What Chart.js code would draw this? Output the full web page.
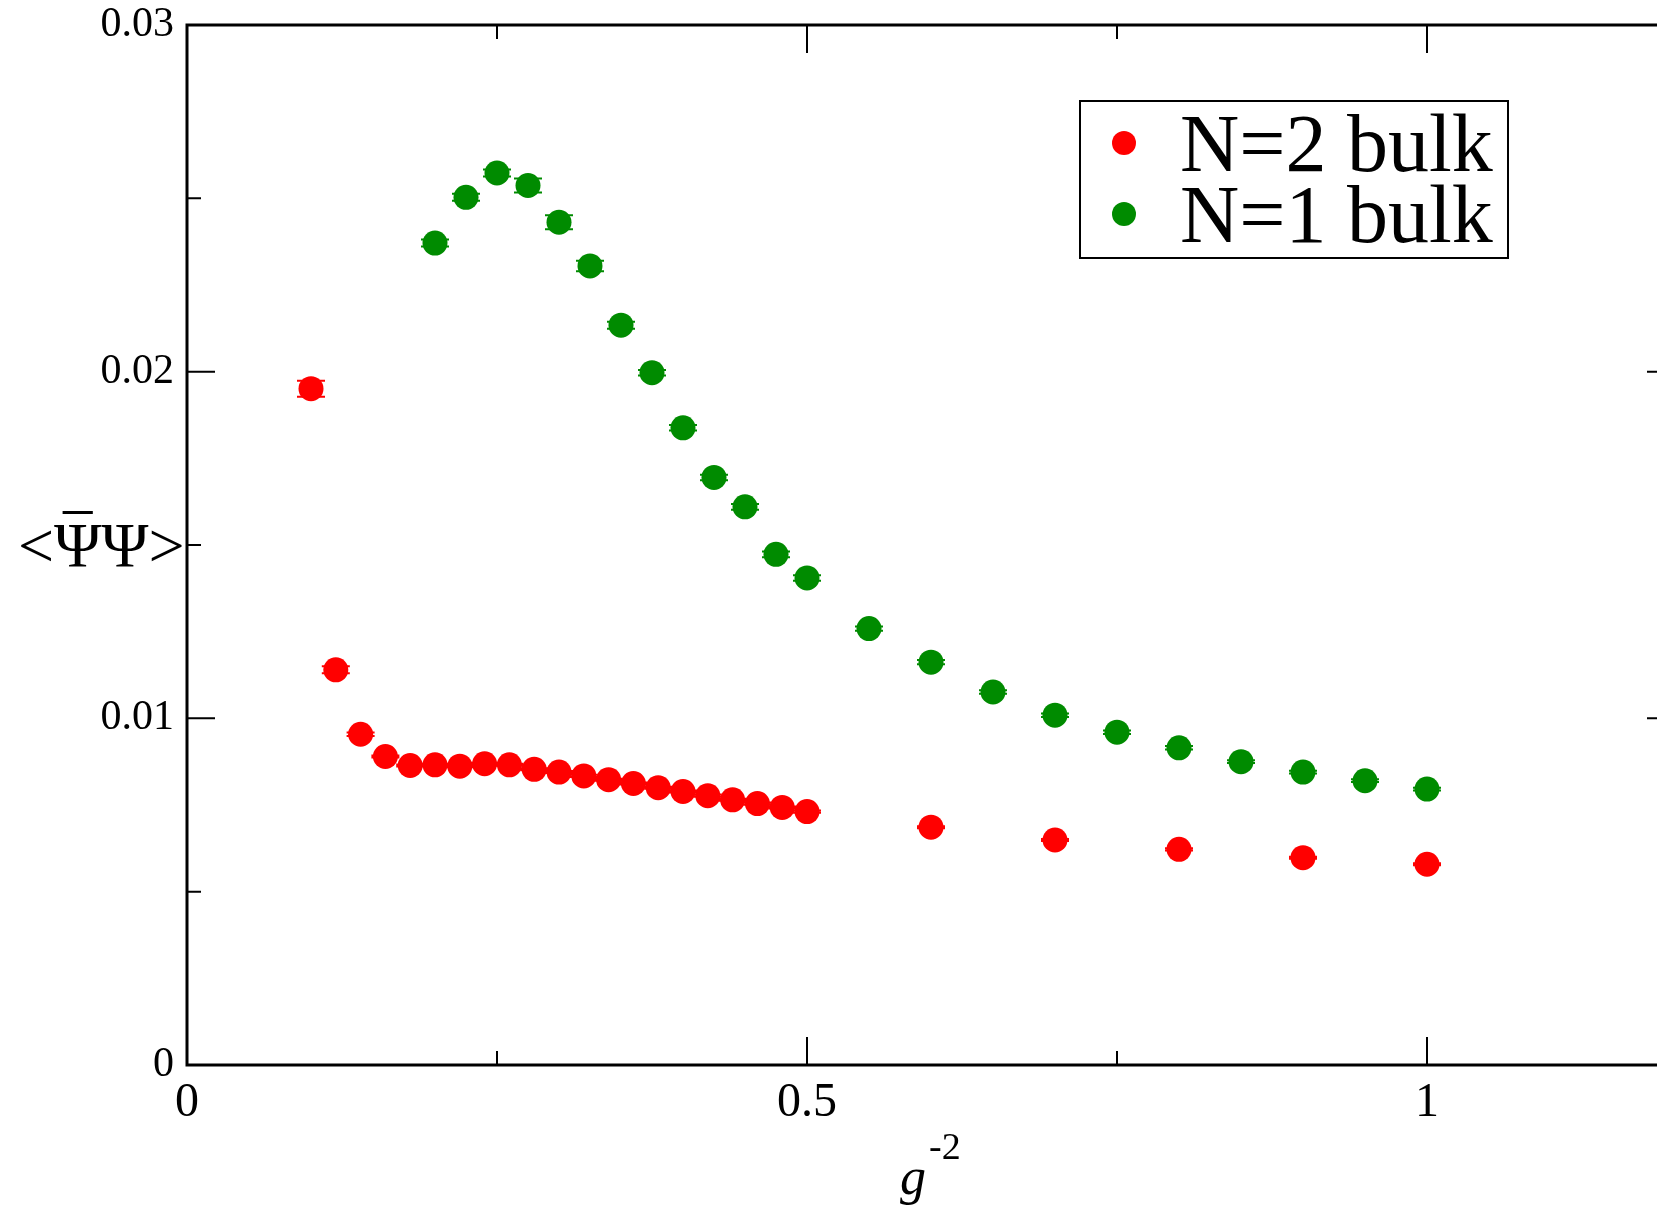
<!DOCTYPE html>
<html>
<head>
<meta charset="utf-8">
<script src="https://cdn.jsdelivr.net/npm/chart.js@4.4.1/dist/chart.umd.min.js"></script>
<style>
  html, body { margin: 0; padding: 0; background: #fff; overflow: hidden; }
  #wrap { width: 1657px; height: 1211px; overflow: hidden; }
</style>
</head>
<body>
<div id="wrap"><canvas id="chart" width="1700" height="1211"></canvas></div>
<script>
/* ---------- Data ---------- */
const N2_X = [0.10, 0.12, 0.14, 0.16, 0.18, 0.20, 0.22, 0.24, 0.26, 0.28, 0.30,
              0.32, 0.34, 0.36, 0.38, 0.40, 0.42, 0.44, 0.46, 0.48, 0.50,
              0.6, 0.7, 0.8, 0.9, 1.0];
const N2_Y = [0.01951, 0.01140, 0.00954, 0.00890, 0.00864, 0.00866, 0.00862, 0.00869,
              0.00866, 0.00853, 0.00845, 0.00834, 0.00823, 0.00812, 0.00800, 0.00789,
              0.00777, 0.00765, 0.00754, 0.00743, 0.00731,
              0.00686, 0.00649, 0.00622, 0.00598, 0.00579];
const N2_ERR = [0.00023, 0.00010, 0.00005, 0.00003, 0.00003, 0.00003, 0.00003, 0.00003,
                0.00003, 0.00003, 0.00003, 0.00003, 0.00003, 0.00003, 0.00003, 0.00003,
                0.00003, 0.00003, 0.00003, 0.00003, 0.00003,
                0.00003, 0.00003, 0.00003, 0.00003, 0.00003];

const N1_X = [0.200, 0.225, 0.250, 0.275, 0.300, 0.325, 0.350, 0.375, 0.400, 0.425,
              0.450, 0.475, 0.500, 0.55, 0.60, 0.65, 0.70, 0.75, 0.80, 0.85, 0.90, 0.95, 1.00];
const N1_Y = [0.02371, 0.02503, 0.02573, 0.02537, 0.02431, 0.02305, 0.02134, 0.01997,
              0.01838, 0.01695, 0.01610, 0.01473, 0.01405, 0.01259, 0.01162, 0.01076,
              0.01009, 0.00960, 0.00915, 0.00875, 0.00845, 0.00820, 0.00796];
const N1_ERR = [0.00010, 0.00010, 0.00010, 0.00020, 0.00020, 0.00015, 0.00010, 0.00008,
                0.00008, 0.00008, 0.00008, 0.00008, 0.00008, 0.00006, 0.00006, 0.00005,
                0.00005, 0.00005, 0.00005, 0.00004, 0.00004, 0.00004, 0.00004];

const SERIES_LABELS = ["N=2 bulk", "N=1 bulk"];

const X_MAJOR = [0, 0.5, 1];
const X_LABELS = ["0", "0.5", "1"];
const X_MINOR = [0.25, 0.75];
const Y_MAJOR = [0, 0.01, 0.02, 0.03];
const Y_LABELS = ["0", "0.01", "0.02", "0.03"];
const Y_MINOR = [0.005, 0.015, 0.025];

const RED = "#ff0000";
const GREEN = "#008b00";
const FONT = "'Liberation Serif', 'DejaVu Serif', serif";

function toPoints(xs, ys) {
  return xs.map((x, i) => ({x: x, y: ys[i]}));
}

/* ---------- Frame, ticks, error bars, legend, titles ---------- */
const gracePlugin = {
  id: "grace",
  beforeDatasetsDraw(chart) {
    const ctx = chart.ctx;
    const xs = chart.scales.x, ys = chart.scales.y;
    ctx.save();
    ctx.lineWidth = 2;
    chart.data.datasets.forEach(ds => {
      ctx.strokeStyle = ds.backgroundColor;
      ds.data.forEach((p, i) => {
        const e = ds.errors[i];
        const px = xs.getPixelForValue(p.x);
        const top = ys.getPixelForValue(p.y + e);
        const bot = ys.getPixelForValue(p.y - e);
        ctx.beginPath();
        ctx.moveTo(px, top); ctx.lineTo(px, bot);
        ctx.moveTo(px - 14, top); ctx.lineTo(px + 14, top);
        ctx.moveTo(px - 14, bot); ctx.lineTo(px + 14, bot);
        ctx.stroke();
      });
    });
    ctx.restore();
  },
  afterDraw(chart) {
    const ctx = chart.ctx;
    const a = chart.chartArea;
    const xs = chart.scales.x, ys = chart.scales.y;
    ctx.save();

    // ticks (inward on all four sides)
    ctx.strokeStyle = "#000";
    ctx.lineWidth = 2;
    ctx.beginPath();
    const xt = X_MAJOR.map(v => [v, 28]).concat(X_MINOR.map(v => [v, 14]));
    xt.forEach(([v, len]) => {
      const px = xs.getPixelForValue(v);
      ctx.moveTo(px, a.bottom); ctx.lineTo(px, a.bottom - len);
      ctx.moveTo(px, a.top); ctx.lineTo(px, a.top + len);
    });
    const yt = Y_MAJOR.map(v => [v, 28]).concat(Y_MINOR.map(v => [v, 14]));
    yt.forEach(([v, len]) => {
      const py = ys.getPixelForValue(v);
      ctx.moveTo(a.left, py); ctx.lineTo(a.left + len, py);
      ctx.moveTo(a.right, py); ctx.lineTo(a.right - len, py);
    });
    ctx.stroke();

    // frame
    ctx.lineWidth = 3;
    ctx.strokeRect(a.left, a.top, a.right - a.left, a.bottom - a.top);

    // legend
    ctx.lineWidth = 2;
    ctx.strokeRect(1080, 101, 428, 157);
    ctx.font = "82px " + FONT;
    ctx.textBaseline = "alphabetic";
    ctx.textAlign = "left";
    chart.data.datasets.forEach((ds, i) => {
      const cy = 143 + i * 71;
      ctx.fillStyle = ds.backgroundColor;
      ctx.beginPath();
      ctx.arc(1124, cy, 12, 0, Math.PI * 2);
      ctx.fill();
      ctx.fillStyle = "#000";
      ctx.fillText(ds.label, 1180, cy + 28);
    });

    // y title  <ΨΨ> with a bar over the first Ψ
    ctx.font = "64px " + FONT;
    ctx.fillStyle = "#000";
    const lt = "<", psi = "\u03A8";
    let x0 = 18;
    const base = 567;
    ctx.fillText(lt, x0, base);
    x0 += ctx.measureText(lt).width;
    const wPsi = ctx.measureText(psi).width;
    ctx.fillText(psi, x0, base);
    ctx.fillRect(x0 + wPsi * 0.18, 511, wPsi * 0.64, 3);
    x0 += wPsi;
    ctx.fillText(psi + ">", x0, base);

    // x title  g^-2
    ctx.font = "italic 52px " + FONT;
    ctx.fillText("g", 900, 1194);
    const wg = ctx.measureText("g").width;
    ctx.font = "38px " + FONT;
    ctx.fillText("-2", 900 + wg + 3, 1159);

    ctx.restore();
  }
};

/* ---------- Chart ---------- */
const ctx = document.getElementById("chart");
new Chart(ctx, {
  type: "scatter",
  data: {
    datasets: [
      {label: SERIES_LABELS[0], data: toPoints(N2_X, N2_Y), errors: N2_ERR,
       backgroundColor: RED, borderColor: RED, pointRadius: 12.5, pointBorderWidth: 0,
       pointHoverRadius: 12.5},
      {label: SERIES_LABELS[1], data: toPoints(N1_X, N1_Y), errors: N1_ERR,
       backgroundColor: GREEN, borderColor: GREEN, pointRadius: 12.5, pointBorderWidth: 0,
       pointHoverRadius: 12.5},
    ]
  },
  options: {
    responsive: false,
    animation: false,
    events: [],
    layout: { padding: { top: 25, right: 25, left: 0, bottom: 0 } },
    plugins: {
      legend: { display: false },
      tooltip: { enabled: false }
    },
    scales: {
      x: {
        type: "linear",
        min: 0, max: 1.2,
        grid: { display: false, drawTicks: false },
        border: { display: false },
        afterBuildTicks: s => { s.ticks = X_MAJOR.map(v => ({value: v})); },
        afterFit: s => { s.height = 146; s.paddingLeft = 0; s.paddingRight = 0; },
        ticks: {
          padding: 14,
          color: "#000",
          font: { family: FONT, size: 48, lineHeight: 1 },
          callback: (v, i) => X_LABELS[i]
        }
      },
      y: {
        type: "linear",
        min: 0, max: 0.03,
        grid: { display: false, drawTicks: false },
        border: { display: false },
        afterBuildTicks: s => { s.ticks = Y_MAJOR.map(v => ({value: v})); },
        afterFit: s => { s.width = 187; s.paddingTop = 0; s.paddingBottom = 0; },
        ticks: {
          padding: 13,
          color: "#000",
          font: { family: FONT, size: 42, lineHeight: 1 },
          callback: (v, i) => Y_LABELS[i]
        }
      }
    }
  },
  plugins: [gracePlugin]
});
</script>
</body>
</html>
